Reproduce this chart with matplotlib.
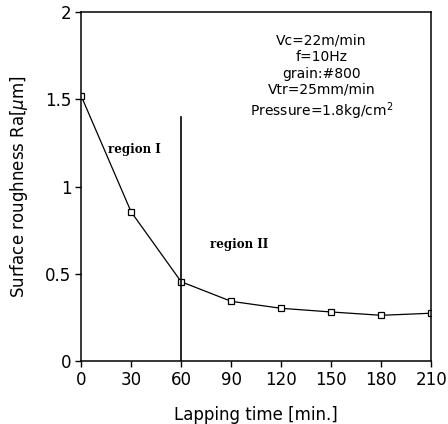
import matplotlib
matplotlib.use("Agg")
import matplotlib.pyplot as plt

# lapping time [min] and surface roughness Ra [um]
lap_time = [0, 30, 60, 90, 120, 150, 180, 210]
roughness = [1.52, 0.855, 0.455, 0.343, 0.303, 0.282, 0.263, 0.275]
x_ticks = [0, 30, 60, 90, 120, 150, 180, 210]
y_ticks = [0, 0.5, 1, 1.5, 2]
y_tick_labels = ["0", "0.5", "1", "1.5", "2"]
boundary_x = 60
boundary_top = 1.40
conditions = "Vc=22m/min\nf=10Hz\ngrain:#800\nVtr=25mm/min\nPressure=1.8kg/cm$^2$"

plt.rcParams["font.family"] = ["DejaVu Sans"]

fig = plt.figure(figsize=(4.48, 4.24), dpi=100)
ax = fig.add_axes([0.181, 0.148, 0.782, 0.824])

ax.plot(lap_time, roughness, color="black", linewidth=0.9,
        marker="s", markersize=5, markerfacecolor="white",
        markeredgecolor="black", markeredgewidth=0.9)
ax.plot([boundary_x, boundary_x], [0, boundary_top], color="black", linewidth=1.2)

ax.set_xlim(0, 210)
ax.set_ylim(0, 2)
ax.set_xticks(x_ticks)
ax.set_yticks(y_ticks)
ax.set_yticklabels(y_tick_labels)
ax.tick_params(direction="out", length=4, width=1, labelsize=12, pad=3)
for spine in ax.spines.values():
    spine.set_linewidth(1.1)

ax.set_xlabel("Lapping time [min.]", fontsize=12, labelpad=12)
ax.set_ylabel("Surface roughness Ra[$\\mu$m]", fontsize=12, labelpad=11)

ax.text(16, 1.21, "region I", fontsize=8.5, fontweight="bold", family="serif", va="center")
ax.text(77, 0.67, "region II", fontsize=8.5, fontweight="bold", family="serif", va="center")
ax.text(144, 1.875, conditions, ha="center", va="top", fontsize=10, linespacing=1.22)

fig.savefig("out.png", dpi=100)
